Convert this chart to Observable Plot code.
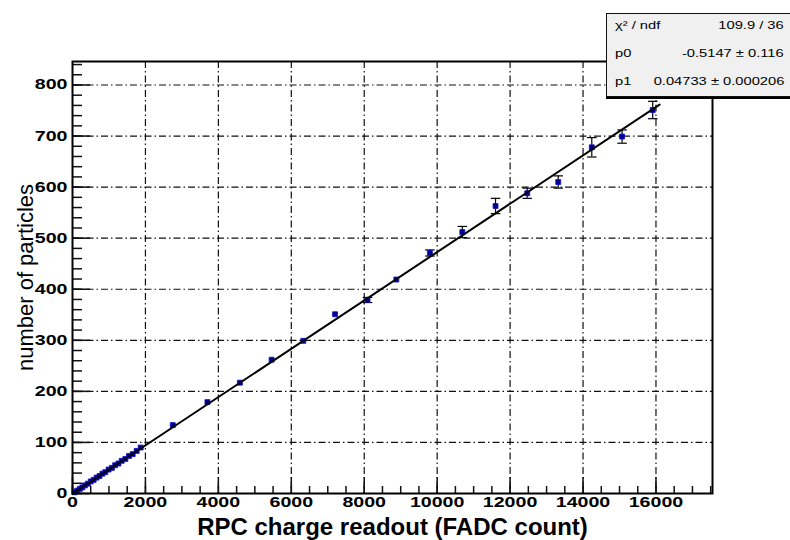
<!DOCTYPE html>
<html>
<head>
<meta charset="utf-8">
<script src="https://cdn.jsdelivr.net/npm/d3@7"></script>
<script src="https://cdn.jsdelivr.net/npm/@observablehq/plot@0.6"></script>
<style>
  html, body { margin: 0; padding: 0; background: #fff; overflow: hidden; }
  #wrap { position: relative; width: 790px; height: 540px; }
  .stats {
    position: absolute; left: 606px; top: 13px; width: 200px; height: 82px;
    background: #f0f0f0; border: 1px solid #111; box-shadow: 0 2px 0 #000;
    font-family: "Liberation Sans", Arial, sans-serif; font-size: 10.5px; color: #000;
  }
  .stats .row {
    position: absolute; left: 8px; width: 169px; height: 14px; line-height: 14px;
    white-space: nowrap;
  }
  .stats .k { position: absolute; left: 0; transform: scaleX(1.4); transform-origin: left center; }
  .stats .v { position: absolute; right: 0; transform: scaleX(1.4); transform-origin: right center; }
</style>
</head>
<body>
<div id="wrap"></div>
<script>
// RPC charge (FADC count) vs number of particles, with fit p0 + p1*x
const charge = [60, 130, 200, 270, 340, 420, 500, 580, 660, 740, 820, 900, 990, 1080, 1170, 1260, 1350, 1450, 1550, 1650, 1760,
  1870, 2750, 3700, 4590, 5460, 6330, 7200, 8090, 8880, 9800, 10690, 11600, 12470, 13320, 14240, 15070, 15910];
const particles = [2.4, 5.5, 9.1, 12.0, 15.9, 19.2, 23.6, 26.7, 31.1, 34.2, 38.8, 41.8, 46.9, 50.2, 55.4, 58.7, 64.0, 67.6, 73.5, 77.1, 83.4,
  90, 134, 179, 217, 262, 299, 351, 379, 419, 471, 512, 563, 588, 610, 678, 699, 751];
const particleErr = [0.6, 0.7, 0.8, 0.8, 0.9, 1.0, 1.0, 1.1, 1.2, 1.2, 1.3, 1.3, 1.4, 1.4, 1.5, 1.5, 1.6, 1.6, 1.7, 1.7, 1.8,
  2, 2, 2.5, 3, 3, 3, 4, 5, 4, 6, 11, 15, 10, 12, 19, 13, 17];

// fit parameters as printed in the stats box
const p0 = -0.5147, p1 = 0.04733;
const fitRange = [0, 16100];

const xMajor = [0, 2000, 4000, 6000, 8000, 10000, 12000, 14000, 16000];
const yMajor = [0, 100, 200, 300, 400, 500, 600, 700, 800];
const xMinor = d3.range(0, 17501, 500);
const yMinor = d3.range(0, 841, 20);

const statLabels = ["χ² / ndf", "p0", "p1"];
const statValues = ["109.9 / 36", "-0.5147 ± 0.116", "0.04733 ± 0.000206"];

const points = charge.map((x, i) => ({x, y: particles[i], e: particleErr[i]}));
const fit = fitRange.map(x => ({x, y: p0 + p1 * x}));

// horizontal end caps for the error bars
const cap = {draw(ctx, size) { const w = Math.sqrt(size) * 0.9; ctx.moveTo(-w, 0); ctx.lineTo(w, 0); }};

const W = 790, H = 540, mL = 72, mR = 78, mT = 61, mB = 47;
const frameW = W - mL - mR, frameH = H - mT - mB;
const dash = "7,3,1.5,3";

const chart = Plot.plot({
  width: W, height: H,
  marginLeft: mL, marginRight: mR, marginTop: mT, marginBottom: mB,
  style: {fontFamily: "'Liberation Sans', Arial, sans-serif", color: "#000", background: "#fff"},
  x: {domain: [0, 17550]},
  y: {domain: [0, 846]},
  marks: [
    Plot.ruleX(xMajor.filter(d => d > 0), {stroke: "#111", strokeWidth: 1.2, strokeDasharray: dash}),
    Plot.ruleY(yMajor.filter(d => d > 0), {stroke: "#111", strokeWidth: 1.2, strokeDasharray: dash}),
    // inward ticks
    Plot.tickX(xMinor, {x: d => d, insetTop: frameH - 7, stroke: "#111", strokeWidth: 1.5}),
    Plot.tickX(xMajor, {x: d => d, insetTop: frameH - 16, stroke: "#111", strokeWidth: 1.5}),
    Plot.tickY(yMinor, {y: d => d, insetRight: frameW - 10, stroke: "#111", strokeWidth: 1.5}),
    Plot.tickY(yMajor, {y: d => d, insetRight: frameW - 18, stroke: "#111", strokeWidth: 1.5}),
    Plot.axisX(xMajor, {tickSize: 0, tickPadding: 4, fontSize: 14, fontWeight: "bold", label: null, tickFormat: d => String(d)}),
    Plot.axisY(yMajor, {tickSize: 0, tickPadding: 5, fontSize: 14, fontWeight: "bold", label: null, tickFormat: d => String(d)}),
    Plot.text(["RPC charge readout (FADC count)"], {frameAnchor: "bottom", dy: 34, lineAnchor: "middle", textAnchor: "middle", fontSize: 24, fontWeight: "bold", text: d => d}),
    Plot.text(["number of particles"], {frameAnchor: "left", dx: -47, rotate: -90, lineAnchor: "middle", textAnchor: "middle", fontSize: 22, text: d => d}),
    // error bars
    Plot.ruleX(points, {x: "x", y1: d => d.y - d.e, y2: d => d.y + d.e, stroke: "#000", strokeWidth: 1.2}),
    Plot.dot(points.filter(d => d.e > 4), {x: "x", y: d => d.y + d.e, symbol: cap, r: 3, stroke: "#000", strokeWidth: 1.2}),
    Plot.dot(points.filter(d => d.e > 4), {x: "x", y: d => d.y - d.e, symbol: cap, r: 3, stroke: "#000", strokeWidth: 1.2}),
    // measured points
    Plot.dot(points, {x: "x", y: "y", symbol: "square", r: 2.8, fill: "#00008c", stroke: "#1010c8", strokeWidth: 0.8}),
    // linear fit
    Plot.line(fit, {x: "x", y: "y", stroke: "#000", strokeWidth: 2}),
    Plot.frame({stroke: "#000", strokeWidth: 2})
  ]
});

const wrap = document.getElementById("wrap");
wrap.appendChild(chart);

// widen the tick labels horizontally around their anchor
chart.querySelectorAll('g[aria-label$="tick label"] text').forEach(t => {
  const g = t.closest("g");
  const isY = g.getAttribute("aria-label").startsWith("y");
  const b = t.getBBox();
  const ax = isY ? b.x + b.width : b.x + b.width / 2;
  const prev = t.getAttribute("transform") || "";
  t.setAttribute("transform", `${prev} translate(${ax},0) scale(1.4,1) translate(${-ax},0)`);
});

// fit statistics box
const box = document.createElement("div");
box.className = "stats";
statLabels.forEach((k, i) => {
  const row = document.createElement("div");
  row.className = "row";
  row.style.top = (4 + i * 28) + "px";
  const a = document.createElement("span"); a.className = "k"; a.textContent = k;
  const b = document.createElement("span"); b.className = "v"; b.textContent = statValues[i];
  row.appendChild(a); row.appendChild(b);
  box.appendChild(row);
});
wrap.appendChild(box);
</script>
</body>
</html>
